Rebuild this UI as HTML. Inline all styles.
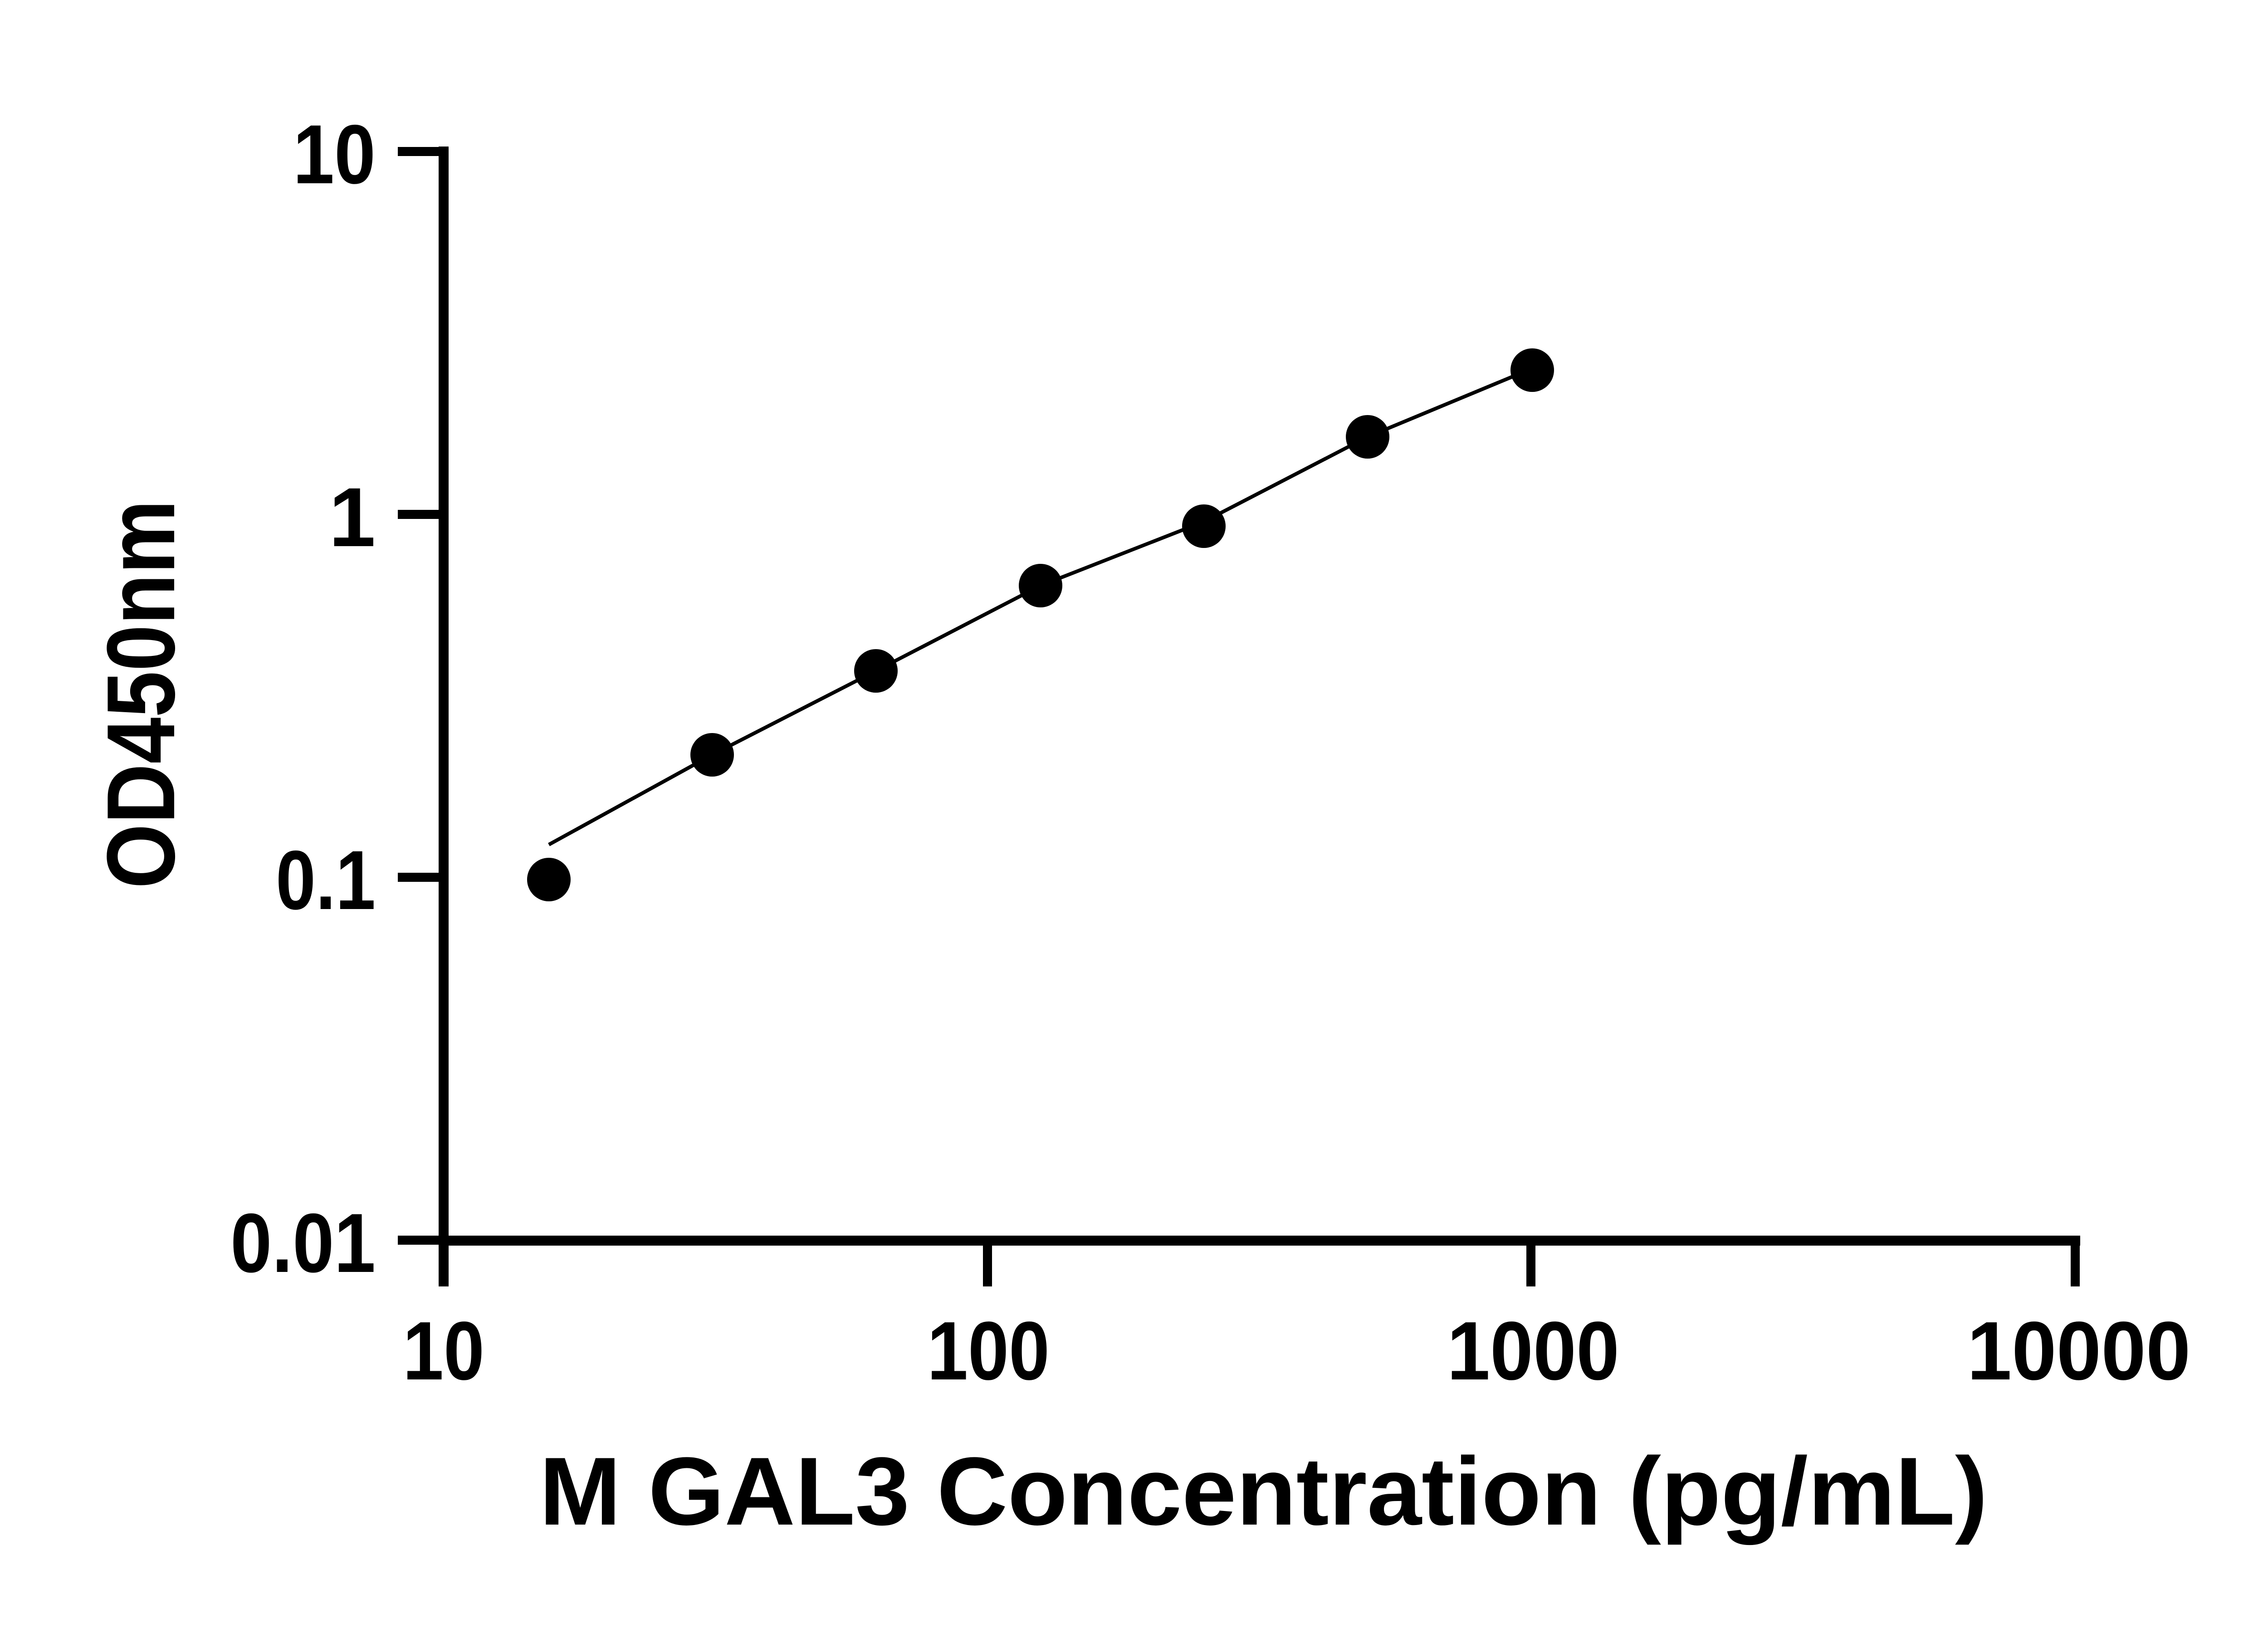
<!DOCTYPE html>
<html><head><meta charset="utf-8"><style>html,body{margin:0;padding:0;background:#fff}svg{display:block}</style></head>
<body>
<svg width="5130" height="3600" viewBox="0 0 5130 3600" xmlns="http://www.w3.org/2000/svg" font-family="Liberation Sans, Arial, sans-serif" font-weight="bold">
<rect width="5130" height="3600" fill="#fff"/>
<line x1="978" y1="323" x2="978" y2="2836" stroke="#000" stroke-width="22"/>
<line x1="967" y1="2735" x2="4586" y2="2735" stroke="#000" stroke-width="22"/>
<g stroke="#000" stroke-width="20">
<line x1="877" y1="334" x2="978" y2="334"/>
<line x1="877" y1="1134" x2="978" y2="1134"/>
<line x1="877" y1="1934" x2="978" y2="1934"/>
<line x1="877" y1="2734" x2="978" y2="2734"/>
<line x1="978" y1="2735" x2="978" y2="2836"/>
<line x1="2177" y1="2735" x2="2177" y2="2836"/>
<line x1="3375" y1="2735" x2="3375" y2="2836"/>
<line x1="4575" y1="2725" x2="4575" y2="2836"/>
</g>
<g font-size="185" text-anchor="end">
<text x="828" y="404" textLength="182" lengthAdjust="spacingAndGlyphs">10</text>
<text x="828" y="1204">1</text>
<text x="828" y="2004" textLength="220" lengthAdjust="spacingAndGlyphs">0.1</text>
<text x="828" y="2804" textLength="320" lengthAdjust="spacingAndGlyphs">0.01</text>
</g>
<g font-size="183" text-anchor="middle">
<text x="978" y="3041" textLength="180" lengthAdjust="spacingAndGlyphs">10</text>
<text x="2179" y="3041" textLength="270" lengthAdjust="spacingAndGlyphs">100</text>
<text x="3380" y="3041" textLength="380" lengthAdjust="spacingAndGlyphs">1000</text>
<text x="4583" y="3041" textLength="493" lengthAdjust="spacingAndGlyphs">10000</text>
</g>
<text x="1189" y="3361" font-size="213" textLength="3193" lengthAdjust="spacingAndGlyphs">M GAL3 Concentration (pg/mL)</text>
<text transform="translate(384,1959) rotate(-90)" font-size="213" textLength="857" lengthAdjust="spacingAndGlyphs">OD450nm</text>
<polyline fill="none" stroke="#000" stroke-width="8" points="1210,1862 1570,1664 1931,1479 2294,1291 2654,1150 3015,963 3340,828"/>
<g fill="#000">
<circle cx="1210" cy="1939" r="48"/>
<circle cx="1570" cy="1664" r="48"/>
<circle cx="1931" cy="1479" r="48"/>
<circle cx="2294" cy="1291" r="48"/>
<circle cx="2654" cy="1160" r="48"/>
<circle cx="3015" cy="963" r="48"/>
<circle cx="3378" cy="816" r="48"/>
</g>
</svg>
</body></html>
